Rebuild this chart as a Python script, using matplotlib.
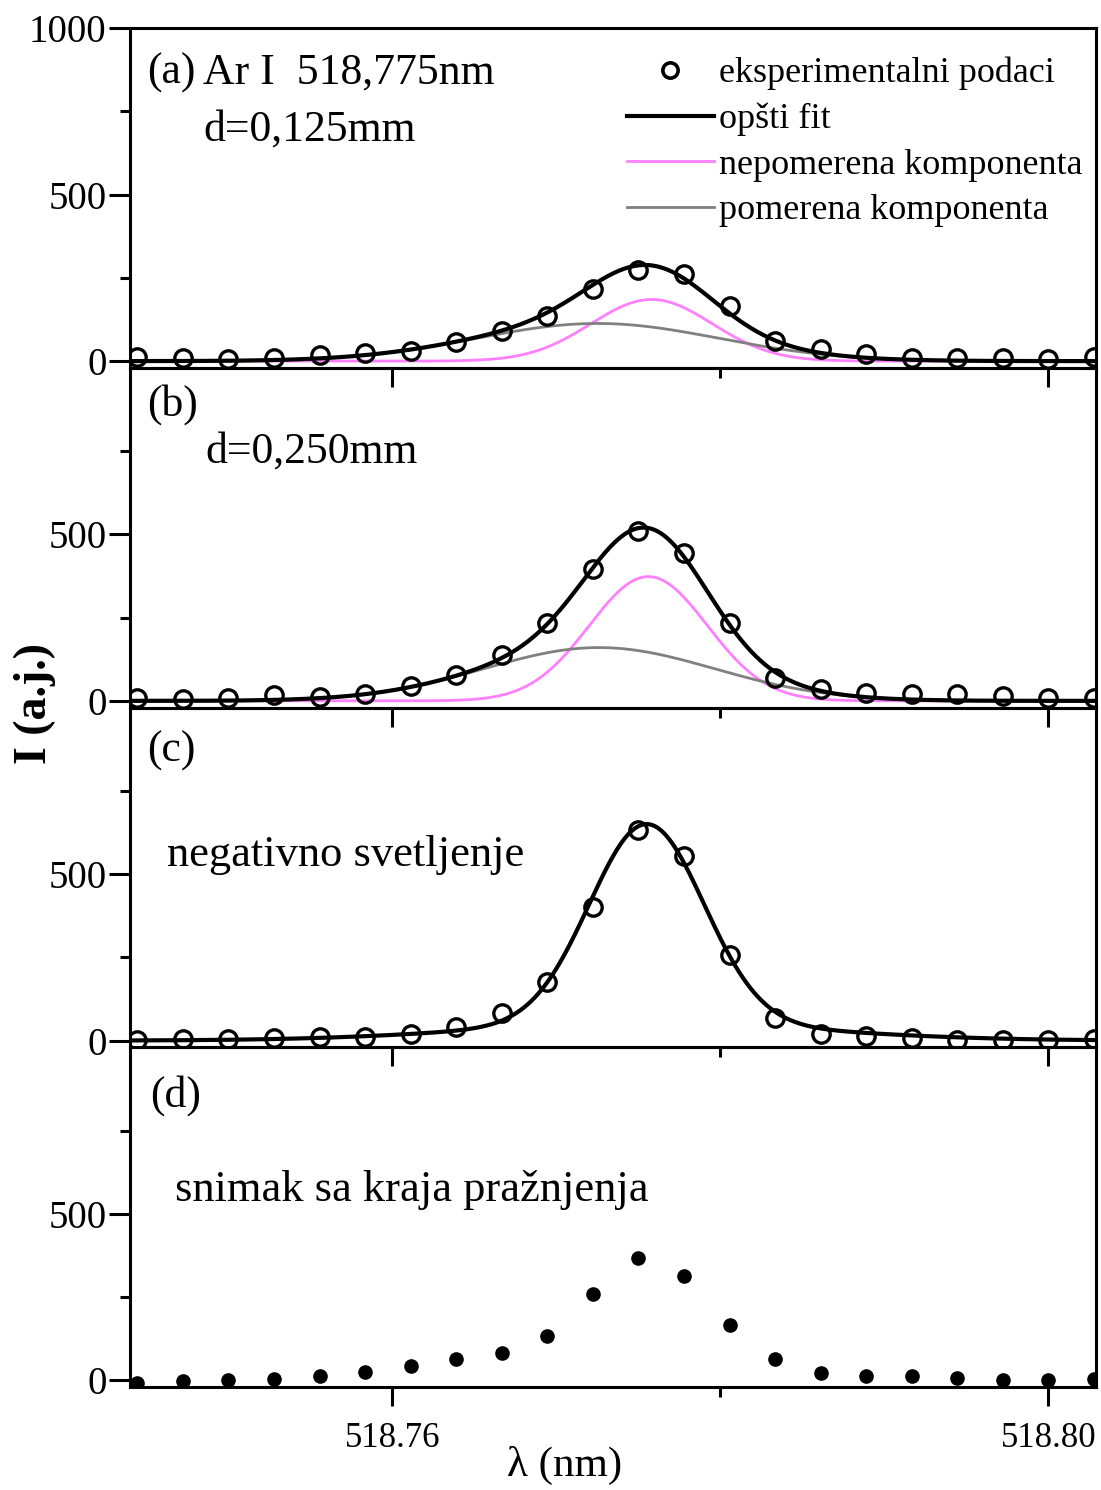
import numpy as np
import matplotlib.pyplot as plt
from matplotlib.lines import Line2D
from matplotlib.ticker import FixedLocator, FormatStrFormatter

plt.rcParams['font.family'] = ['Liberation Serif', 'DejaVu Serif']

# talasne duzine mernih tacaka (nm)
wavelength = [518.74445, 518.74723, 518.75000, 518.75278, 518.75556, 518.75834,
              518.76111, 518.76389, 518.76667, 518.76945, 518.77223, 518.77500,
              518.77778, 518.78056, 518.78334, 518.78611, 518.78889, 518.79167,
              518.79445, 518.79722, 518.80000, 518.80278]

# izmereni intenziteti (a.j.)
int_a = [13, 10, 5, 8, 18, 23, 30, 58, 91, 135, 215, 273, 261, 165, 61, 35, 22, 8, 8, 8, 5, 11]
int_b = [10, 5, 10, 18, 12, 22, 44, 79, 138, 235, 397, 510, 445, 235, 70, 35, 25, 20, 22, 15, 10, 10]
int_c = [2, 5, 5, 8, 10, 12, 21, 41, 82, 177, 400, 632, 555, 257, 67, 20, 14, 8, 3, 3, 3, 5]
int_d = [-7, -3, 0, 3, 13, 25, 42, 63, 83, 133, 260, 368, 313, 167, 65, 23, 12, 13, 7, 2, 2, 5]

# parametri gausovih komponenti: (centar nm, sigma nm, amplituda)
nepomerena_a = (518.7758, 0.0037, 185)
pomerena_a = (518.7725, 0.0074, 113)
nepomerena_b = (518.7756, 0.0036, 373)
pomerena_b = (518.7726, 0.0070, 160)
uska_c = (518.7755, 0.00348, 598)
siroka_c = (518.7755, 0.0104, 52)


def gauss(x, p):
    x0, w, a = p
    return a * np.exp(-(x - x0) ** 2 / (2 * w ** 2))


xf = np.linspace(518.7440, 518.8030, 800)

PINK = '#ff80ff'
GRAY = '#808080'

fig, axes = plt.subplots(4, 1, figsize=(11.01, 14.90), dpi=100, sharex=True,
                         gridspec_kw={'hspace': 0})
fig.subplots_adjust(left=0.1181, right=0.9955, top=0.9812, bottom=0.0691)

circ = dict(ls='none', marker='o', ms=12.5, mfc='none', mec='black', mew=2.4, zorder=4)

# (a)
ax = axes[0]
ax.plot(xf, gauss(xf, nepomerena_a), color=PINK, lw=2.0, zorder=2)
ax.plot(xf, gauss(xf, pomerena_a), color=GRAY, lw=2.0, zorder=2.5)
ax.plot(xf, gauss(xf, nepomerena_a) + gauss(xf, pomerena_a), color='black', lw=3.0, zorder=3)
ax.plot(wavelength, int_a, **circ)

# (b)
ax = axes[1]
ax.plot(xf, gauss(xf, nepomerena_b), color=PINK, lw=2.0, zorder=2)
ax.plot(xf, gauss(xf, pomerena_b), color=GRAY, lw=2.0, zorder=2.5)
ax.plot(xf, gauss(xf, nepomerena_b) + gauss(xf, pomerena_b), color='black', lw=3.0, zorder=3)
ax.plot(wavelength, int_b, **circ)

# (c)
ax = axes[2]
ax.plot(xf, gauss(xf, uska_c) + gauss(xf, siroka_c), color='black', lw=3.0, zorder=3)
ax.plot(wavelength, int_c, **circ)

# (d)
ax = axes[3]
ax.plot(wavelength, int_d, ls='none', marker='o', ms=9.5, color='black', zorder=4)

for i, ax in enumerate(axes):
    ax.set_facecolor('none')
    for s in ax.spines.values():
        s.set_linewidth(2.2)
    ax.set_xlim(518.7440, 518.8029)
    ax.set_ylim(-20, 1000)
    ax.yaxis.set_major_locator(FixedLocator([0, 500, 1000] if i == 0 else [0, 500]))
    ax.yaxis.set_minor_locator(FixedLocator([250, 750]))
    ax.xaxis.set_major_locator(FixedLocator([518.76, 518.80]))
    ax.xaxis.set_minor_locator(FixedLocator([518.78]))
    ax.xaxis.set_major_formatter(FormatStrFormatter('%.2f'))
    ax.tick_params(axis='y', which='major', direction='out', length=15, width=2.2,
                   labelsize=28, pad=2, right=False)
    ax.tick_params(axis='y', which='minor', direction='out', length=7.5, width=2.2, right=False)
    ax.tick_params(axis='x', which='major', direction='out', length=14, width=2.2,
                   labelsize=25, pad=11, top=False, labelbottom=(i == 3))
    ax.tick_params(axis='x', which='minor', direction='out', length=7, width=2.2, top=False)

fs = 31.5
fs2 = 32
axes[0].text(0.0176, 0.868, '(a)', transform=axes[0].transAxes, fontsize=fs, va='center')
axes[0].text(0.0756, 0.868, 'Ar I  518,775nm', transform=axes[0].transAxes, fontsize=fs, va='center')
axes[0].text(0.0756, 0.700, 'd=0,125mm', transform=axes[0].transAxes, fontsize=fs, va='center')
axes[1].text(0.0176, 0.891, '(b)', transform=axes[1].transAxes, fontsize=fs, va='center')
axes[1].text(0.0776, 0.753, 'd=0,250mm', transform=axes[1].transAxes, fontsize=fs, va='center')
axes[2].text(0.0176, 0.874, '(c)', transform=axes[2].transAxes, fontsize=fs, va='center')
axes[2].text(0.0383, 0.565, 'negativno svetljenje', transform=axes[2].transAxes, fontsize=fs2, va='center')
axes[3].text(0.0207, 0.859, '(d)', transform=axes[3].transAxes, fontsize=fs, va='center')
axes[3].text(0.0466, 0.579, 'snimak sa kraja pražnjenja', transform=axes[3].transAxes, fontsize=fs2, va='center')

handles = [
    Line2D([], [], ls='none', marker='o', ms=11, mfc='none', mec='black', mew=2.6),
    Line2D([], [], color='black', lw=3.0),
    Line2D([], [], color=PINK, lw=2.0),
    Line2D([], [], color=GRAY, lw=2.0),
]
labels = ['eksperimentalni podaci', 'opšti fit', 'nepomerena komponenta', 'pomerena komponenta']
axes[0].legend(handles, labels, loc='upper left', bbox_to_anchor=(627 / 1101, 1 - 57 / 1490),
               bbox_transform=fig.transFigure, frameon=False, fontsize=26, borderpad=0,
               borderaxespad=0, handlelength=2.4, handletextpad=0.15, labelspacing=0.34,
               numpoints=1)

fig.text(35 / 1101, 1 - 703 / 1490, 'I (a.j.)', rotation=90, fontsize=33,
         fontweight='bold', ha='center', va='center')
fig.text(565 / 1101, 1 - 1465 / 1490, 'λ (nm)', fontsize=31, ha='center', va='center')

fig.savefig('out.png', dpi=100)
